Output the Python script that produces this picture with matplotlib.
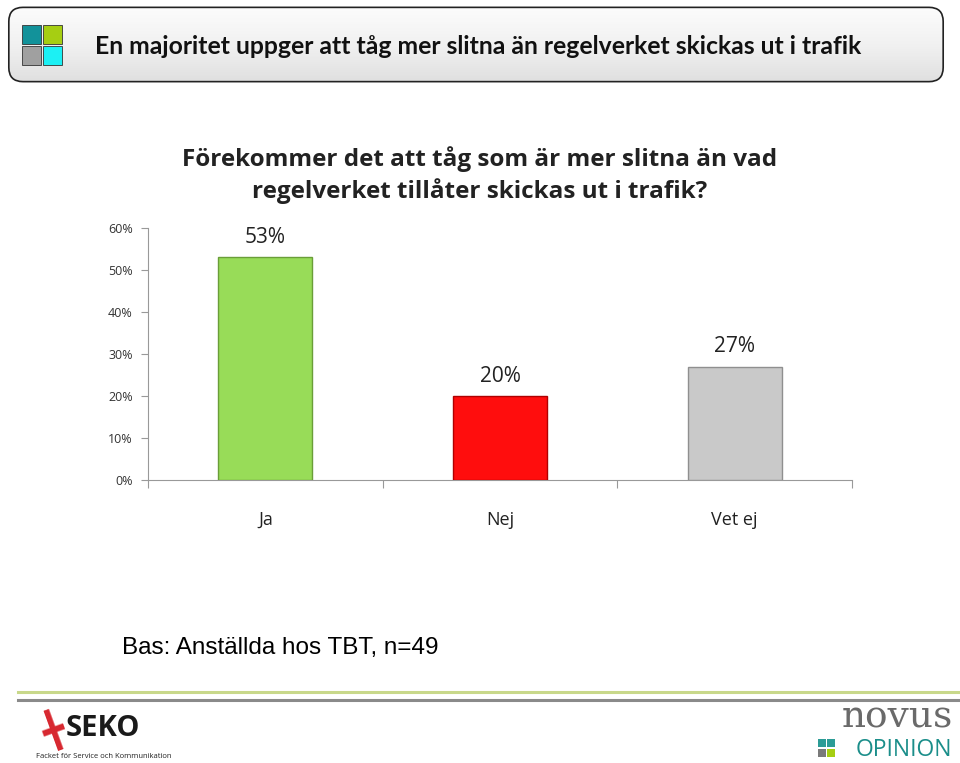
import matplotlib.pyplot as plt
import numpy as np
from matplotlib.patches import FancyBboxPatch, Rectangle

# data
kategorier = ['Ja', 'Nej', 'Vet ej']
andelar = [53, 20, 27]
stapelfarger = ['#98dc58', '#ff0d0d', '#c9c9c9']
kantfarger = ['#6a9e38', '#b00000', '#8f8f8f']
yticks = [0, 10, 20, 30, 40, 50, 60]

rubrik = 'En majoritet uppger att tåg mer slitna än regelverket skickas ut i trafik'
diagramtitel = 'Förekommer det att tåg som är mer slitna än vad\nregelverket tillåter skickas ut i trafik?'
bas = 'Bas: Anställda hos TBT, n=49'

fig = plt.figure(figsize=(9.6, 7.63), dpi=100)
W, H = 960, 763

def fx(px):
    return px / W

def fy(py):
    return 1 - py / H

# header box with a soft grey gradient (light at top, a bit darker at bottom)
grad = np.linspace(0.02, 0.22, 64).reshape(-1, 1)
hax = fig.add_axes([fx(6), fy(84), fx(940), (84 - 5) / H])
hax.set_xlim(0, 1)
hax.set_ylim(0, 1)
hax.axis('off')
box = FancyBboxPatch((0.003, 0.03), 0.994, 0.94, boxstyle='round,pad=0,rounding_size=0.015',
                     transform=hax.transAxes, facecolor='none', edgecolor='#222222', lw=1.2,
                     mutation_aspect=940 / 79)
im = hax.imshow(grad, extent=[0, 1, 0, 1], aspect='auto', cmap='Greys', vmin=0, vmax=1,
                interpolation='bicubic')
hax.add_patch(box)
im.set_clip_path(box)

# icon squares
for (x0, y0, c) in [(22, 25, '#12929a'), (43, 25, '#a6ce12'), (22, 46, '#a0a0a0'), (43, 46, '#1cf0f4')]:
    fig.patches.append(Rectangle((fx(x0), fy(y0 + 19)), fx(19), 19 / H, transform=fig.transFigure,
                                 facecolor=c, edgecolor='#333333', lw=0.6))

fig.text(fx(95), fy(46), rubrik, fontsize=17.8, fontweight='bold', family='Lato',
         va='center', ha='left', color='#111111')

# main chart
ax = fig.add_axes([fx(148), fy(480), fx(704), (480 - 228) / H])
x = np.arange(len(kategorier))
bars = ax.bar(x, andelar, width=0.4, color=stapelfarger, edgecolor=kantfarger, linewidth=1.0, zorder=3)
for b, v in zip(bars, andelar):
    ax.text(b.get_x() + b.get_width() / 2, v + 2.2, f'{v}%', ha='center', va='bottom',
            fontsize=15, family='Open Sans', color='#222222')

ax.set_xlim(-0.5, 2.5)
ax.set_ylim(0, 60)
ax.set_yticks(yticks)
ax.set_yticklabels([f'{t}%' for t in yticks], fontsize=9, family='Open Sans', color='#333333')
ax.set_xticks([-0.5, 0.5, 1.5, 2.5], minor=False)
ax.set_xticklabels([])
ax.set_xticks(x, minor=True)
ax.set_xticklabels(kategorier, minor=True, fontsize=13, family='Open Sans', color='#222222')
ax.tick_params(axis='x', which='minor', length=0, pad=22)
ax.tick_params(axis='x', which='major', length=6, color='#999999', direction='out')
ax.tick_params(axis='y', length=5, color='#999999', pad=6)
for s in ['top', 'right']:
    ax.spines[s].set_visible(False)
ax.spines['left'].set_color('#999999')
ax.spines['bottom'].set_color('#999999')

fig.text(fx(480), fy(175), diagramtitel, ha='center', va='center', fontsize=17.5,
         fontweight='bold', family='Open Sans', color='#222222', linespacing=1.35)

fig.text(fx(122), fy(648), bas, ha='left', va='center', fontsize=17.5,
         family='Liberation Sans', color='#000000')

# footer lines
fig.add_artist(plt.Line2D([fx(18), fx(960)], [fy(692), fy(692)], color='#c8d88a', lw=2.2))
fig.add_artist(plt.Line2D([fx(18), fx(960)], [fy(700), fy(700)], color='#8a8a8a', lw=2.2))

# SEKO logo (approximation)
fig.text(fx(36), fy(730), '╋', fontsize=26, color='#d7262e', va='center', ha='left', rotation=20)
fig.text(fx(66), fy(729), 'SEKO', fontsize=21, fontweight='bold', family='Open Sans',
         color='#1a1a1a', va='center', ha='left')
fig.text(fx(36), fy(756), 'Facket för Service och Kommunikation', fontsize=5.5,
         family='Open Sans', color='#222222', va='center', ha='left')

# Novus logo (approximation)
fig.text(fx(953), fy(728), 'novus', fontsize=27, family='DejaVu Serif', color='#6a6a6a',
         va='baseline', ha='right')
fig.text(fx(952), fy(756), 'OPINION', fontsize=16.5, family='Open Sans', color='#1b8e8a',
         va='baseline', ha='right')
for (x0, y0, c) in [(818, 739, '#2c9c96'), (827, 739, '#2c9c96'), (818, 749, '#7a7a7a'), (827, 749, '#a6ce12')]:
    fig.patches.append(Rectangle((fx(x0), fy(y0 + 8)), fx(8), 8 / H, transform=fig.transFigure,
                                 facecolor=c, edgecolor='none'))

fig.savefig('out.png', dpi=100)
